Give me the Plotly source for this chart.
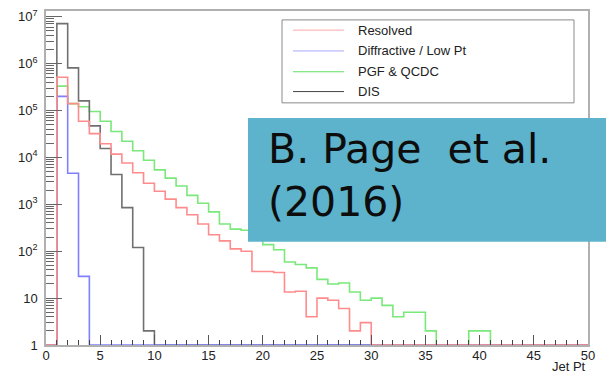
import plotly.graph_objects as go

# Jet Pt histograms (1 GeV bins from 0 to 50), bin contents per process
bin_edges_max = 50
resolved = [0, 5.1e5, 1.4e5, 5.9e4, 3.2e4, 1.95e4, 1.17e4, 7600, 4700, 2800,
            1900, 1290, 850, 600, 380, 224, 166, 112, 100, 37,
            37, 35, 13.5, 14, 4, 10, 9, 6, 2, 3,
            0, 0, 0, 0, 0, 0, 0, 0, 0, 0,
            0, 0, 0, 0, 0, 0, 0, 0, 0, 0]
diffractive = [0, 2.0e5, 4600, 29] + [0] * 46
pgf_qcdc = [0, 3.3e5, 1.4e5, 1.2e5, 9.5e4, 5.9e4, 3.55e4, 2.2e4, 1.38e4, 8700,
            5400, 3600, 2450, 1550, 1050, 690, 380, 295, 280, 200,
            138, 107, 59, 52, 44, 25, 20, 21, 13.5, 9,
            10, 7, 4, 5, 5, 2, 0, 0, 0, 2,
            2, 0, 0, 0, 0, 0, 0, 0, 0, 0]
dis = [0, 7.1e6, 8.1e5, 1.6e5, 4.7e4, 1.55e4, 4300, 850, 120, 2] + [0] * 40

series_names = ["Resolved", "Diffractive / Low Pt", "PGF & QCDC", "DIS"]
series_values = [resolved, diffractive, pgf_qcdc, dis]
series_colors = ["#ff8c8c", "#8080ff", "#7ae87a", "#707070"]
legend_colors = ["#ffa8a8", "#a8a8ff", "#5ee05e", "#444444"]

x_ticks = [0, 5, 10, 15, 20, 25, 30, 35, 40, 45, 50]
y_tick_vals = [1, 10, 100, 1e3, 1e4, 1e5, 1e6, 1e7]
y_tick_text = ["1", "10", "10<sup>2</sup>", "10<sup>3</sup>", "10<sup>4</sup>",
               "10<sup>5</sup>", "10<sup>6</sup>", "10<sup>7</sup>"]

Y_FLOOR = 1.0  # empty bins are drawn on the bottom of the log frame


def step_path(values):
    """Outline of a histogram as hv-step points, closing down to the floor."""
    vals = [v if v > 0 else Y_FLOOR for v in values]
    n = len(vals)
    xs = [0] + list(range(n)) + [n, n]
    ys = [Y_FLOOR] + vals + [vals[-1], Y_FLOOR]
    return xs, ys


fig = go.Figure()
# Drawing order puts red on top so empty-bin segments show like the ROOT frame
draw_order = [2, 3, 1, 0]
for i in draw_order:
    xs, ys = step_path(series_values[i])
    fig.add_trace(go.Scatter(
        x=xs, y=ys, mode="lines", line_shape="hv",
        line=dict(color=series_colors[i], width=1.6),
        name=series_names[i], showlegend=False, hoverinfo="skip"))

W, H = 606, 377
ML, MR, MT, MB = 46, 18, 8, 32
PW, PH = W - ML - MR, H - MT - MB


def px_x(p):
    return (p - ML) / PW


def px_y(p):
    return (H - MB - p) / PH


shapes = []
annotations = []

# Legend box
shapes.append(dict(type="rect", xref="paper", yref="paper",
                   x0=px_x(282), x1=px_x(574), y0=px_y(100.7), y1=px_y(17),
                   line=dict(color="#8a8a8a", width=1), fillcolor="white",
                   layer="above"))
row_y = [27.3, 48.3, 69.3, 89.3]
for name, col, ry in zip(series_names, legend_colors, row_y):
    shapes.append(dict(type="line", xref="paper", yref="paper",
                       x0=px_x(293), x1=px_x(344), y0=px_y(ry), y1=px_y(ry),
                       line=dict(color=col, width=1), layer="above"))
    annotations.append(dict(text=name, xref="paper", yref="paper",
                            x=px_x(356), y=px_y(ry), xanchor="left",
                            yanchor="middle", showarrow=False,
                            font=dict(family="Liberation Sans, Arial", size=13,
                                      color="#222")))

# Citation banner
shapes.append(dict(type="rect", xref="paper", yref="paper",
                   x0=px_x(248), x1=px_x(607), y0=px_y(240.7), y1=px_y(116),
                   line=dict(width=0), fillcolor="#5db3cb", layer="above"))
annotations.append(dict(text="B. Page  et al.<br>(2016)", xref="paper",
                        yref="paper", x=px_x(266), y=px_y(121),
                        xanchor="left", yanchor="top", align="left",
                        showarrow=False,
                        font=dict(family="DejaVu Sans", size=41,
                                  color="#0d0d0d")))

# Axis title
annotations.append(dict(text="Jet Pt", xref="paper", yref="paper",
                        x=1.0, y=px_y(367), xanchor="right", yanchor="middle",
                        showarrow=False,
                        font=dict(family="Liberation Sans, Arial", size=13,
                                  color="#222")))

minor_y = [k * 10 ** e for e in range(0, 7) for k in range(2, 10)]

fig.update_layout(
    width=W, height=H,
    margin=dict(l=ML, r=MR, t=MT, b=MB, pad=0),
    paper_bgcolor="white", plot_bgcolor="white",
    showlegend=False,
    shapes=shapes, annotations=annotations,
    xaxis=dict(range=[0, bin_edges_max], tickmode="array", tickvals=x_ticks,
               ticks="inside", ticklen=10, tickwidth=1, tickcolor="#555",
               minor=dict(dtick=1, ticks="inside", ticklen=5,
                          tickcolor="#444", tickwidth=1),
               showgrid=False, zeroline=False,
               showline=True, linecolor="#b0b0b0", linewidth=1.5, mirror=True,
               ticklabelstandoff=-2,
               tickfont=dict(family="Liberation Sans, Arial", size=13,
                             color="#222")),
    yaxis=dict(type="log", range=[0, 7.12], tickmode="array",
               tickvals=y_tick_vals, ticktext=y_tick_text,
               ticks="inside", ticklen=16, tickwidth=1, tickcolor="#666",
               minor=dict(tickmode="array", tickvals=minor_y, ticks="inside",
                          ticklen=8, tickcolor="#666", tickwidth=1),
               showgrid=False, zeroline=False,
               showline=True, linecolor="#b0b0b0", linewidth=1.5, mirror=True,
               ticklabelstandoff=4,
               tickfont=dict(family="Liberation Sans, Arial", size=13,
                             color="#222")),
)

fig.write_html("out.html")
